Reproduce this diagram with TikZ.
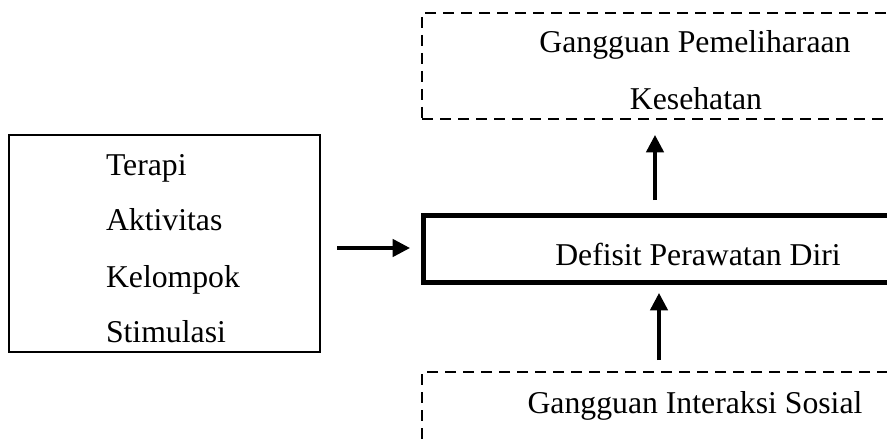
\documentclass[tikz,border=0pt]{standalone}
\usepackage{fontspec}
\setmainfont{Liberation Serif}
\usetikzlibrary{arrows.meta,calc}
\begin{document}
\begin{tikzpicture}[x=0.75pt,y=-0.75pt,
  box/.style={draw=black,rectangle,outer sep=0pt,inner sep=0pt},
  thinbox/.style={box,line width=0.8pt},
  thickbox/.style={box,line width=3.75pt},
  dashbox/.style={box,line width=1.6pt,dash pattern=on 8.25pt off 5.25pt},
  lbl/.style={font=\fontsize{23.8}{28}\selectfont,inner sep=0pt,outer sep=0pt},
  arr/.style={line width=2.6pt,-{Triangle[length=13pt,width=13pt]}}]
\useasboundingbox (0,0) rectangle (887,442);
\clip (0,0) rectangle (887,442);
% boxes
\node[thinbox,minimum width=233.25pt,minimum height=162.75pt] (lbox) at (164.5,243.5) {};
\node[thickbox,minimum width=414pt,minimum height=50.25pt] (dpd) at (699,248.5) {};
\node[dashbox,minimum width=411pt,minimum height=79.5pt] (top) at (696,66) {};
\node[dashbox,minimum width=411pt,minimum height=81pt] (bot) at (696,426) {};
% texts
\node[lbl,anchor=base west] (l1) at (106,175) {Terapi};
\node[lbl,anchor=base west] (l2) at (106,230) {Aktivitas};
\node[lbl,anchor=base west] (l3) at (106,287) {Kelompok};
\node[lbl,anchor=base west] (l4) at (106,342) {Stimulasi};
\node[lbl,anchor=base] (t1) at (695,53) {Gangguan Pemeliharaan};
\node[lbl,anchor=base] (t2) at (696,110) {Kesehatan};
\node[lbl,anchor=base] (t3) at (698,265) {Defisit Perawatan Diri};
\node[lbl,anchor=base] (t4) at (695,413) {Gangguan Interaksi Sosial};
% connectors
\coordinate (ax1) at (655,0);
\coordinate (ax2) at (659,0);
\coordinate (ay) at (0,248);
\draw[arr,shorten <=11.25pt,shorten >=12pt] (dpd.north -| ax1) -- (top.south -| ax1);
\draw[arr,shorten <=9pt,shorten >=8.25pt] (bot.north -| ax2) -- (dpd.south -| ax2);
\draw[arr,shorten <=12.75pt,shorten >=9.75pt] (lbox.east |- ay) -- (dpd.west |- ay);
\end{tikzpicture}
\end{document}
